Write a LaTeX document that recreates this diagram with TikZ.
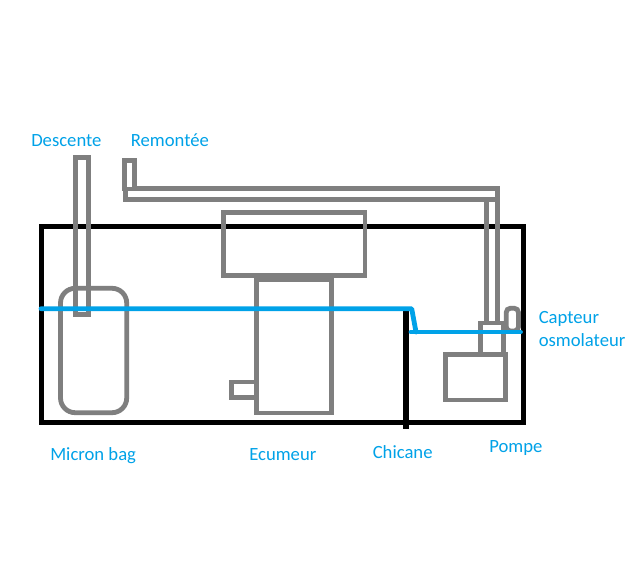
\documentclass[tikz,border=0pt]{standalone}
\usepackage{fontspec}
\setmainfont{Carlito}
\definecolor{SumpBlue}{HTML}{00A2E8}
\definecolor{SumpGray}{HTML}{7F7F7F}
\tikzset{
    tankline/.style={black, line width=3.6pt},
    partline/.style={SumpGray, line width=3.6pt},
    waterline/.style={SumpBlue, line width=3.6pt, line cap=round, line join=round},
    partlabel/.style={SumpBlue, anchor=base west, inner sep=0pt, font=\fontsize{14pt}{17pt}\selectfont}
}

\begin{document}
\begin{tikzpicture}[x=0.75pt, y=-0.75pt]
    \useasboundingbox[fill=white] (0,0) rectangle (632,570);

    % ========== Tank ==========
    \draw[tankline] (41.7,226.5) rectangle (523.7,422.3);
    \draw[black, line width=4.6pt] (405.6,310) -- (405.6,428.7);

    % ========== Descente + micron bag ==========
    \draw[partline] (75.6,157.3) rectangle (88.7,314.4);
    \draw[partline, rounded corners=11pt] (60.5,288.3) rectangle (126.7,412.7);

    % ========== Remontee ==========
    \draw[partline] (124.2,160.5) rectangle (134.8,189);
    \draw[partline] (134.8,188.5) -- (497.5,188.5) -- (497.5,321.7);
    \draw[partline] (125.5,189) -- (125.5,199.5) -- (486.7,199.5) -- (486.7,321.7);
    \draw[partline] (486.7,199.5) -- (497.5,199.5);

    % ========== Ecumeur ==========
    \draw[partline] (223.3,212.3) rectangle (365,275.5);
    \draw[partline] (256.5,279.5) rectangle (331.7,413);
    \fill[SumpGray] (254.3,273.3) rectangle (334,281.7);
    \draw[partline] (231.3,382) rectangle (256.5,397.5);

    % ========== Pompe + capteur ==========
    \draw[partline] (480.6,323) rectangle (503.7,354);
    \draw[partline] (445.6,354.5) rectangle (505.8,400);
    \draw[partline, rounded corners=3pt] (506.3,308.3) rectangle (518.4,331);

    % ========== Water level ==========
    \draw[waterline] (41,308.7) -- (411.7,308.7) -- (416,332);
    \draw[waterline] (411,332) -- (520.5,332);

    % ========== Labels ==========
    \node[partlabel] (descente) at (31,147) {Descente};
    \node[partlabel] (remontee) at (130.5,147) {Remontée};
    \node[partlabel] (capteur) at (538.5,324) {Capteur};
    \node[partlabel] (osmolateur) at (538.5,346.7) {osmolateur};
    \node[partlabel] (micronbag) at (50,460) {Micron bag};
    \node[partlabel] (ecumeur) at (249,460) {Ecumeur};
    \node[partlabel] (chicane) at (372.5,458) {Chicane};
    \node[partlabel] (pompe) at (489,452) {Pompe};
\end{tikzpicture}
\end{document}
